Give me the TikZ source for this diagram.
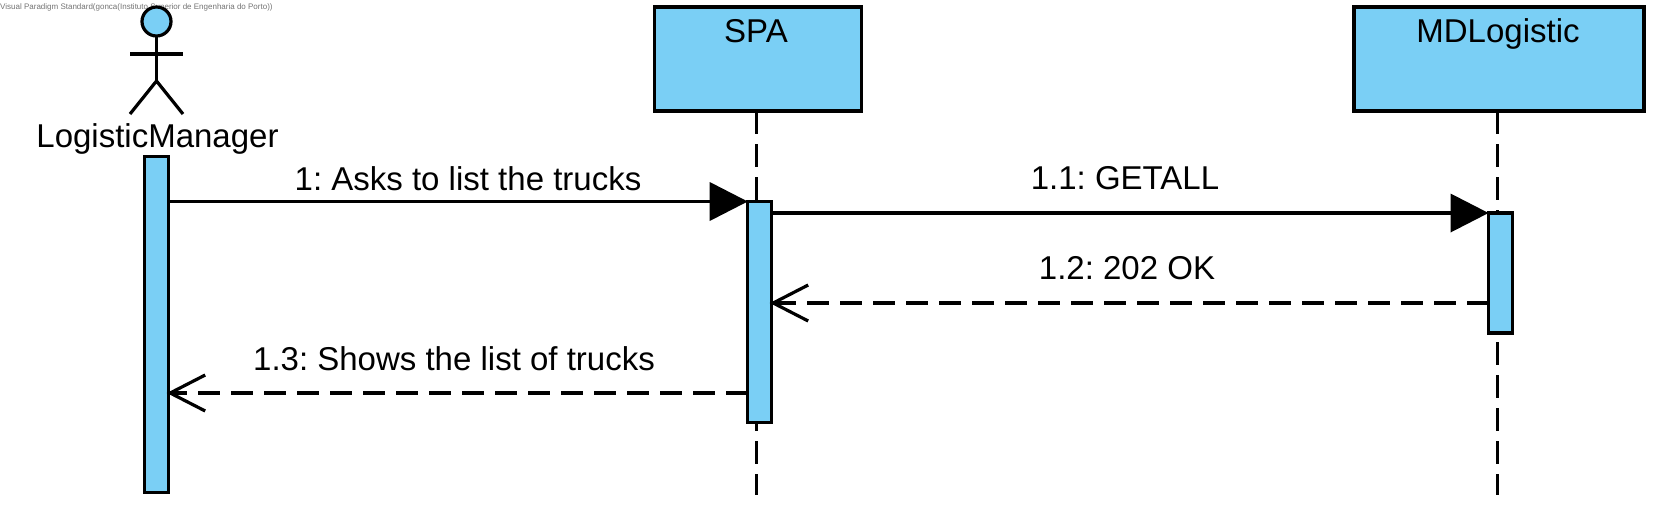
\documentclass[tikz,border=0pt]{standalone}
\usepackage{fontspec}
\setmainfont{Liberation Sans}
\frenchspacing
\usetikzlibrary{arrows.meta}
\definecolor{umlblue}{RGB}{122,207,245}
\tikzset{
  umlline/.style={line width=3.2pt,line join=miter},
  headbox/.style={draw,umlline,fill=umlblue,inner sep=0pt,outer sep=0pt,minimum width=207pt,minimum height=104pt},
  actbar/.style={draw,umlline,fill=umlblue,inner sep=0pt,outer sep=0pt,minimum width=24pt},
  umltext/.style={inner sep=0pt,anchor=base,font=\fontsize{33}{38}\selectfont},
  lifeline/.style={umlline,dash pattern=on 23pt off 10pt},
  callmsg/.style={umlline,-{Triangle[length=38pt,width=39pt,line width=0pt]}},
  replymsg/.style={umlline,dash pattern=on 22pt off 11pt,shorten >=-2pt,-{Straight Barb[length=35pt,width=36pt,line width=3.2pt]}}
}
\begin{document}
\begin{tikzpicture}[x=1pt,y=-1pt]
  \useasboundingbox (0,0) rectangle (1659,507);

  % Marking the tool note
  \node (note) [anchor=base west,inner sep=0pt,text=black!55,font=\fontsize{8}{10}\selectfont] at (0,9.5)
    {Visual Paradigm Standard(gonca(Instituto Superior de Engenharia do Porto))};

  % Drawing the actor
  \node (head) [draw,umlline,fill=umlblue,circle,inner sep=0pt,outer sep=0pt,minimum size=29pt] at (156.5,21.5) {};
  \coordinate (hip) at (156.5,81);
  \coordinate (armL) at (130,54);
  \coordinate (armR) at (183,54);
  \coordinate (footL) at (130,114);
  \coordinate (footR) at (183,114);
  \draw [umlline] (head.south) -- (hip);
  \draw [umlline] (armL) -- (armR);
  \draw [umlline] (footL) -- (hip) -- (footR);
  \node (manager) [umltext] at (157.5,147.5) {LogisticManager};

  % Drawing the head boxes
  \node (spa) [headbox] at (757.7,59) {};
  \node (md) [headbox,minimum width=290pt] at (1499,59) {};
  \node (spaName) [umltext] at (756,42.5) {SPA};
  \node (mdName) [umltext] at (1498,42.5) {MDLogistic};

  % Drawing the lifelines
  \coordinate (spaEnd) at (756.5,495);
  \coordinate (mdEnd) at (1497.5,495);
  \draw [lifeline] (spa.south -| spaEnd) -- (spaEnd);
  \draw [lifeline] (md.south -| mdEnd) -- (mdEnd);

  % Drawing the activation bars
  \node (barManager) [actbar,minimum height=336pt] at (156.7,324.2) {};
  \node (barSpa) [actbar,minimum height=221pt] at (759.7,312) {};
  \node (barMd) [actbar,minimum height=120pt] at (1500.5,273) {};

  % Drawing the messages
  \coordinate (rowOk) at (0,303);
  \coordinate (rowList) at (0,393);
  \draw [callmsg] (barManager.east |- barSpa.north) -- (barSpa.north west);
  \draw [callmsg] (barSpa.east |- barMd.north) -- (barMd.north west);
  \draw [replymsg] (barMd.west |- rowOk) -- (barSpa.east |- rowOk);
  \draw [replymsg] (barSpa.west |- rowList) -- (barManager.east |- rowList);

  % Marking the message labels
  \node (askLabel) [umltext] at (468,190) {1: Asks to list the trucks};
  \node (getLabel) [umltext] at (1125,189.5) {1.1: GETALL};
  \node (okLabel) [umltext] at (1127,279.5) {1.2: 202 OK};
  \node (showLabel) [umltext] at (454,370) {1.3: Shows the list of trucks};
\end{tikzpicture}
\end{document}
